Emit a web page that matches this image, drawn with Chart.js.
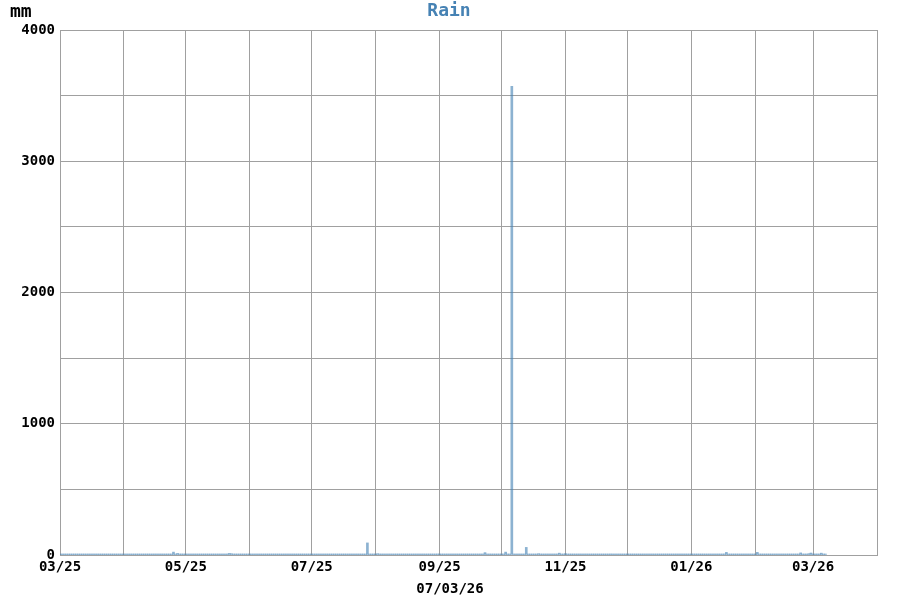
<!DOCTYPE html>
<html>
<head>
<meta charset="utf-8">
<script src="https://cdn.jsdelivr.net/npm/chart.js@4"></script>
<style>
  html,body{margin:0;padding:0;background:#fff;}
  #wrap{width:900px;height:600px;position:relative;}
</style>
</head>
<body>
<div id="wrap"><canvas id="c" width="900" height="600"></canvas></div>
<script>
// ---- data ----
const startDate = '2025-03-01';   // left edge of the axis
const endDate   = '2026-04-01';   // right edge of the axis
const lastDataDate = '2026-03-07';
const rainDates = [
  '2025-03-12','2025-03-16','2025-03-29','2025-04-25','2025-04-27','2025-04-29',
  '2025-05-22','2025-05-23','2025-05-28','2025-06-09','2025-07-28','2025-08-02',
  '2025-08-21','2025-08-31','2025-09-11','2025-09-21','2025-09-23','2025-10-03',
  '2025-10-06','2025-10-09','2025-10-13','2025-10-19','2025-10-29','2025-11-01',
  '2025-11-04','2025-11-16','2025-11-23','2025-11-26','2025-12-12','2025-12-20',
  '2026-01-04','2026-01-06','2026-01-12','2026-01-13','2026-01-16','2026-01-17',
  '2026-01-18','2026-01-19','2026-02-02','2026-02-09','2026-02-16','2026-02-23',
  '2026-02-27','2026-02-28','2026-03-03','2026-03-05'
];
const rainValues = [
  4,3,4,22,12,8,
  12,10,4,6,92,10,
  5,8,6,5,18,22,
  3570,6,58,10,14,10,
  5,5,8,4,5,5,
  6,4,5,4,6,8,
  20,6,20,5,5,16,
  10,15,8,14
];
const monthTicks = ['2025-03-01','2025-04-01','2025-05-01','2025-06-01','2025-07-01','2025-08-01',
  '2025-09-01','2025-10-01','2025-11-01','2025-12-01','2026-01-01','2026-02-01','2026-03-01','2026-04-01'];
const monthLabels = ['03/25','','05/25','','07/25','','09/25','','11/25','','01/26','','03/26',''];
const yTickLabels = {0:'0',1000:'1000',2000:'2000',3000:'3000',4000:'4000'};
const chartTitle = 'Rain';
const yUnit = 'mm';
const xTitle = '07/03/26';

// ---- helpers ----
const DAY = 86400000;
function dayIdx(s){ const p = s.split('-').map(Number); return Math.round((Date.UTC(p[0],p[1]-1,p[2]) - Date.UTC(2025,2,1)) / DAY); }
const xMin = dayIdx(startDate), xMax = dayIdx(endDate), lastDay = dayIdx(lastDataDate);
const rainMap = {};
rainDates.forEach((d,i)=>{ rainMap[dayIdx(d)] = rainValues[i]; });
const points = [];
for (let d = xMin; d <= lastDay; d++) points.push({x: d, y: rainMap[d] || 0});
const tickDays = monthTicks.map(dayIdx);

const MONO = '"DejaVu Sans Mono", monospace';
const textPlugin = {
  id: 'texts',
  afterDraw(chart){
    const ctx = chart.ctx;
    ctx.save();
    ctx.textBaseline = 'middle';
    ctx.textAlign = 'center';
    ctx.fillStyle = '#4682b4';
    ctx.font = 'bold 18px ' + MONO;
    ctx.fillText(chartTitle, 449, 11);
    ctx.fillStyle = '#000';
    ctx.font = 'bold 14px ' + MONO;
    ctx.fillText(xTitle, 450, 589);
    ctx.textAlign = 'left';
    ctx.font = 'bold 18px ' + MONO;
    ctx.fillText(yUnit, 10, 12);
    ctx.restore();
  }
};

new Chart(document.getElementById('c'), {
  type: 'bar',
  data: { datasets: [{
    data: points,
    backgroundColor: 'rgba(70,130,180,0.62)',
    borderWidth: 0,
    barThickness: 2,
    minBarLength: 1
  }]},
  options: {
    responsive: false,
    animation: false,
    layout: { padding: { top: 30, right: 23, left: 0, bottom: 0 } },
    plugins: { legend: { display: false }, tooltip: { enabled: false }, title: { display: false } },
    scales: {
      x: {
        type: 'linear',
        min: xMin, max: xMax,
        offset: false,
        afterBuildTicks(scale){ scale.ticks = tickDays.map(v => ({value: v})); },
        afterFit(scale){ scale.height = 45; },
        ticks: {
          autoSkip: false, maxRotation: 0, padding: 4,
          color: '#000', font: { family: MONO, size: 14, weight: 'bold' },
          callback(v, i){ return monthLabels[i]; }
        },
        grid: { color: '#a0a0a0', lineWidth: 1, drawTicks: false, offset: false },
        border: { color: '#a0a0a0' }
      },
      y: {
        min: 0, max: 4000,
        afterFit(scale){ scale.width = 60; },
        ticks: {
          stepSize: 500, padding: 5, color: '#000',
          font: { family: MONO, size: 14, weight: 'bold' },
          callback(v){ return yTickLabels[v] !== undefined ? yTickLabels[v] : ''; }
        },
        grid: { color: '#a0a0a0', lineWidth: 1, drawTicks: false },
        border: { color: '#a0a0a0' }
      }
    }
  },
  plugins: [textPlugin, {
    id: 'rightBorder',
    afterDraw(chart){
      const a = chart.chartArea, ctx = chart.ctx;
      ctx.save(); ctx.strokeStyle = '#a0a0a0'; ctx.lineWidth = 1;
      ctx.beginPath(); ctx.moveTo(Math.round(a.right)+0.5, a.top); ctx.lineTo(Math.round(a.right)+0.5, a.bottom); ctx.stroke();
      ctx.restore();
    }
  }]
});
</script>
</body>
</html>
